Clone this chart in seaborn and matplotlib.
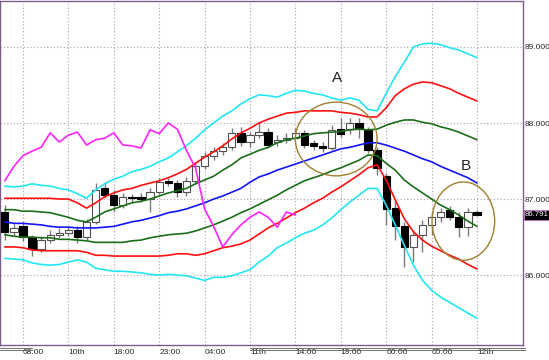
import matplotlib
matplotlib.use('Agg')
import matplotlib.pyplot as plt
from matplotlib.patches import Ellipse
from matplotlib.lines import Line2D
import numpy as np
import pandas as pd
import seaborn as sns

# hourly candles, oldest first
opens = [86.83, 86.57, 86.64, 86.50, 86.34, 86.46, 86.53, 86.55, 86.59, 86.50,
         86.70, 87.14, 87.05, 86.92, 87.03, 87.03, 87.00, 87.09, 87.24, 87.21,
         87.09, 87.24, 87.43, 87.57, 87.63, 87.68, 87.87, 87.75, 87.84, 87.88,
         87.75, 87.78, 87.80, 87.87, 87.74, 87.70, 87.67, 87.92, 87.92, 88.00,
         87.91, 87.64, 87.30, 86.88, 86.64, 86.37, 86.53, 86.66, 86.76, 86.86,
         86.76, 86.63, 86.83]
highs = [86.92, 86.67, 86.70, 86.53, 86.51, 86.59, 86.62, 86.64, 86.64, 86.74,
         87.21, 87.22, 87.12, 87.08, 87.07, 87.08, 87.14, 87.28, 87.28, 87.25,
         87.29, 87.49, 87.62, 87.68, 87.74, 87.93, 87.95, 87.88, 88.01, 87.93,
         87.84, 87.87, 87.93, 87.91, 87.78, 87.75, 87.97, 88.07, 88.07, 88.07,
         87.95, 87.68, 87.34, 86.99, 86.70, 86.59, 86.72, 86.83, 86.88, 86.91,
         86.83, 86.88, 86.86]
lows = [86.46, 86.51, 86.45, 86.25, 86.30, 86.42, 86.49, 86.51, 86.42, 86.46,
        86.67, 87.01, 86.83, 86.88, 86.95, 86.96, 86.83, 87.07, 87.17, 87.03,
        87.04, 87.20, 87.39, 87.51, 87.58, 87.64, 87.70, 87.68, 87.80, 87.67,
        87.70, 87.74, 87.78, 87.67, 87.64, 87.62, 87.64, 87.82, 87.86, 87.80,
        87.61, 87.32, 86.66, 86.46, 86.11, 86.17, 86.30, 86.53, 86.70, 86.72,
        86.50, 86.51, 86.78]
closes = [86.57, 86.62, 86.50, 86.34, 86.46, 86.53, 86.55, 86.59, 86.50, 86.70,
          87.12, 87.05, 86.92, 87.03, 87.01, 87.00, 87.09, 87.22, 87.21, 87.09,
          87.24, 87.43, 87.57, 87.63, 87.68, 87.87, 87.75, 87.84, 87.88, 87.71,
          87.78, 87.80, 87.87, 87.71, 87.70, 87.67, 87.91, 87.86, 88.00, 87.92,
          87.64, 87.41, 86.87, 86.64, 86.37, 86.53, 86.66, 86.76, 86.83, 86.76,
          86.63, 86.83, 86.79]

# bollinger bands
bb_mid = [86.70, 86.68, 86.68, 86.67, 86.66, 86.64, 86.63, 86.63, 86.62, 86.62,
          86.62, 86.63, 86.64, 86.67, 86.70, 86.72, 86.75, 86.78, 86.82, 86.84,
          86.87, 86.91, 86.95, 87.00, 87.04, 87.09, 87.14, 87.22, 87.29, 87.33,
          87.38, 87.42, 87.46, 87.50, 87.54, 87.58, 87.62, 87.66, 87.68, 87.71,
          87.74, 87.74, 87.71, 87.67, 87.63, 87.58, 87.53, 87.49, 87.43, 87.38,
          87.33, 87.28, 87.21]
bb_up1 = [86.86, 86.86, 86.84, 86.84, 86.83, 86.82, 86.79, 86.76, 86.72, 86.70,
          86.76, 86.83, 86.87, 86.91, 86.95, 86.97, 87.00, 87.04, 87.08, 87.11,
          87.14, 87.20, 87.25, 87.30, 87.38, 87.45, 87.54, 87.59, 87.64, 87.68,
          87.74, 87.78, 87.80, 87.83, 87.86, 87.87, 87.88, 87.89, 87.91, 87.92,
          87.91, 87.92, 87.97, 88.01, 88.04, 88.04, 88.01, 87.99, 87.95, 87.92,
          87.88, 87.83, 87.78]
bb_dn1 = [86.53, 86.51, 86.50, 86.50, 86.49, 86.49, 86.47, 86.47, 86.46, 86.45,
          86.43, 86.43, 86.43, 86.43, 86.45, 86.46, 86.49, 86.51, 86.53, 86.54,
          86.55, 86.58, 86.62, 86.66, 86.71, 86.76, 86.82, 86.87, 86.93, 86.99,
          87.05, 87.12, 87.18, 87.24, 87.28, 87.32, 87.37, 87.41, 87.46, 87.51,
          87.58, 87.57, 87.47, 87.38, 87.25, 87.16, 87.08, 87.00, 86.92, 86.86,
          86.79, 86.71, 86.64]
bb_up2 = [87.01, 87.01, 87.01, 87.01, 87.01, 87.01, 87.00, 87.00, 86.95, 86.88,
          86.95, 87.03, 87.08, 87.12, 87.14, 87.18, 87.21, 87.24, 87.28, 87.33,
          87.39, 87.47, 87.55, 87.62, 87.70, 87.79, 87.87, 87.93, 88.00, 88.05,
          88.09, 88.13, 88.14, 88.16, 88.16, 88.16, 88.16, 88.14, 88.13, 88.11,
          88.08, 88.08, 88.20, 88.36, 88.45, 88.51, 88.54, 88.53, 88.49, 88.45,
          88.39, 88.34, 88.29]
bb_dn2 = [86.37, 86.37, 86.36, 86.33, 86.32, 86.32, 86.32, 86.32, 86.32, 86.30,
          86.26, 86.26, 86.25, 86.25, 86.25, 86.25, 86.25, 86.25, 86.26, 86.28,
          86.28, 86.26, 86.28, 86.32, 86.36, 86.38, 86.41, 86.46, 86.54, 86.62,
          86.68, 86.75, 86.82, 86.88, 86.95, 87.01, 87.09, 87.16, 87.24, 87.32,
          87.41, 87.45, 87.25, 86.99, 86.74, 86.57, 86.46, 86.38, 86.32, 86.26,
          86.21, 86.14, 86.08]
bb_up3 = [87.17, 87.16, 87.17, 87.20, 87.18, 87.17, 87.14, 87.12, 87.07, 87.01,
          87.12, 87.20, 87.26, 87.30, 87.36, 87.39, 87.43, 87.49, 87.54, 87.62,
          87.70, 87.80, 87.91, 88.00, 88.09, 88.16, 88.25, 88.32, 88.37, 88.36,
          88.34, 88.39, 88.43, 88.42, 88.39, 88.37, 88.33, 88.30, 88.33, 88.30,
          88.18, 88.16, 88.39, 88.61, 88.80, 89.00, 89.04, 89.05, 89.03, 88.99,
          88.96, 88.91, 88.86]
bb_dn3 = [86.22, 86.21, 86.20, 86.16, 86.14, 86.13, 86.14, 86.17, 86.20, 86.17,
          86.09, 86.07, 86.05, 86.05, 86.04, 86.03, 86.01, 86.00, 86.01, 86.00,
          85.99, 85.96, 85.93, 85.97, 85.97, 85.99, 86.03, 86.07, 86.17, 86.25,
          86.36, 86.42, 86.49, 86.55, 86.59, 86.66, 86.75, 86.86, 86.96, 87.05,
          87.14, 87.14, 86.92, 86.66, 86.39, 86.13, 85.93, 85.80, 85.71, 85.64,
          85.57, 85.50, 85.43]

lag = 20  # lagging close line (magenta)
time_labels = ['08:00', '10th', '18:00', '23:00', '04:00', '11th',
               '14:00', '19:00', '00:00', '05:00', '12th']
time_ticks = list(range(2, 53, 5))
price_ticks = [86.0, 87.0, 88.0, 89.0]
last_price = 86.791

sns.set_style('white')
plt.rcParams['font.family'] = ['Liberation Sans', 'DejaVu Sans']

fig = plt.figure(figsize=(5.49, 3.6), dpi=100)
ax = fig.add_axes([0, 15 / 360, 523 / 549, 344 / 360])

bars = np.arange(len(closes))
o = np.array(opens)
c = np.array(closes)
up = c >= o

# candles
ax.vlines(bars, lows, highs, color='#7a7a7a', lw=1, zorder=2)
ax.bar(bars[up], np.maximum(c - o, 0.004)[up], bottom=o[up], width=0.8,
       color='white', edgecolor='#505050', lw=0.8, zorder=3)
ax.bar(bars[~up], (o - c)[~up], bottom=c[~up], width=0.8,
       color='black', edgecolor='black', lw=0.8, zorder=3)

# bands
df = pd.DataFrame({'bar': bars, 'mid': bb_mid, 'up1': bb_up1, 'dn1': bb_dn1,
                   'up2': bb_up2, 'dn2': bb_dn2, 'up3': bb_up3, 'dn3': bb_dn3})
band_colors = {'up3': '#22e6f2', 'dn3': '#22e6f2', 'up2': '#ff1010', 'dn2': '#ff1010',
               'up1': '#1a6e1a', 'dn1': '#1a6e1a', 'mid': '#1414ff'}
for col, colr in band_colors.items():
    sns.lineplot(data=df, x='bar', y=col, color=colr, lw=1.2, ax=ax, zorder=4)

lag_df = pd.DataFrame({'bar': bars[:-lag], 'lag_close': closes[lag:]})
sns.lineplot(data=lag_df, x='bar', y='lag_close', color='#ff22ff', lw=1.2, ax=ax, zorder=4)

# circled areas
ax.add_patch(Ellipse((36.5, 87.79), 9.0, 0.97, fill=False, edgecolor='#a08030', lw=1, zorder=5))
ax.add_patch(Ellipse((50.5, 86.71), 6.9, 1.03, fill=False, edgecolor='#a08030', lw=1, zorder=5))
ax.text(36.6, 88.59, 'A', fontsize=11, ha='center', va='center', zorder=6)
ax.text(50.8, 87.43, 'B', fontsize=11, ha='center', va='center', zorder=6)

ax.set_xlim(-0.53, 57.07)
ax.set_ylim(85.08, 89.605)
ax.set_xlabel('')
ax.set_ylabel('')
ax.set_xticks(time_ticks)
ax.set_xticklabels(time_labels, ha='left')
ax.set_yticks(price_ticks)
ax.set_yticklabels(['%.3f' % p for p in price_ticks])
ax.yaxis.tick_right()
ax.tick_params(axis='x', length=0, pad=3, labelsize=6)
ax.tick_params(axis='y', length=0, pad=1, labelsize=6)
ax.grid(True, ls=(0, (1, 2)), color='#b49ab4', lw=0.8)
ax.set_axisbelow(True)
for s in ax.spines.values():
    s.set_color('#7a5f8a')
    s.set_linewidth(1)

ax.annotate('%.3f' % last_price, xy=(1, last_price), xycoords=('axes fraction', 'data'),
            xytext=(1.5, 0), textcoords='offset points', ha='left', va='center',
            fontsize=5.6, color='white', annotation_clip=False,
            bbox=dict(boxstyle='square,pad=0.2', facecolor='black', edgecolor='#d070d0', lw=0.6))

# separator lines under the chart
for yy in (12.5 / 360, 10.5 / 360):
    fig.add_artist(Line2D([250 / 549, 525 / 549], [yy, yy], color='#707070', lw=0.7))
    fig.add_artist(Line2D([0, 32 / 549], [yy, yy], color='#707070', lw=0.7))

fig.savefig('out.png', dpi=100)
